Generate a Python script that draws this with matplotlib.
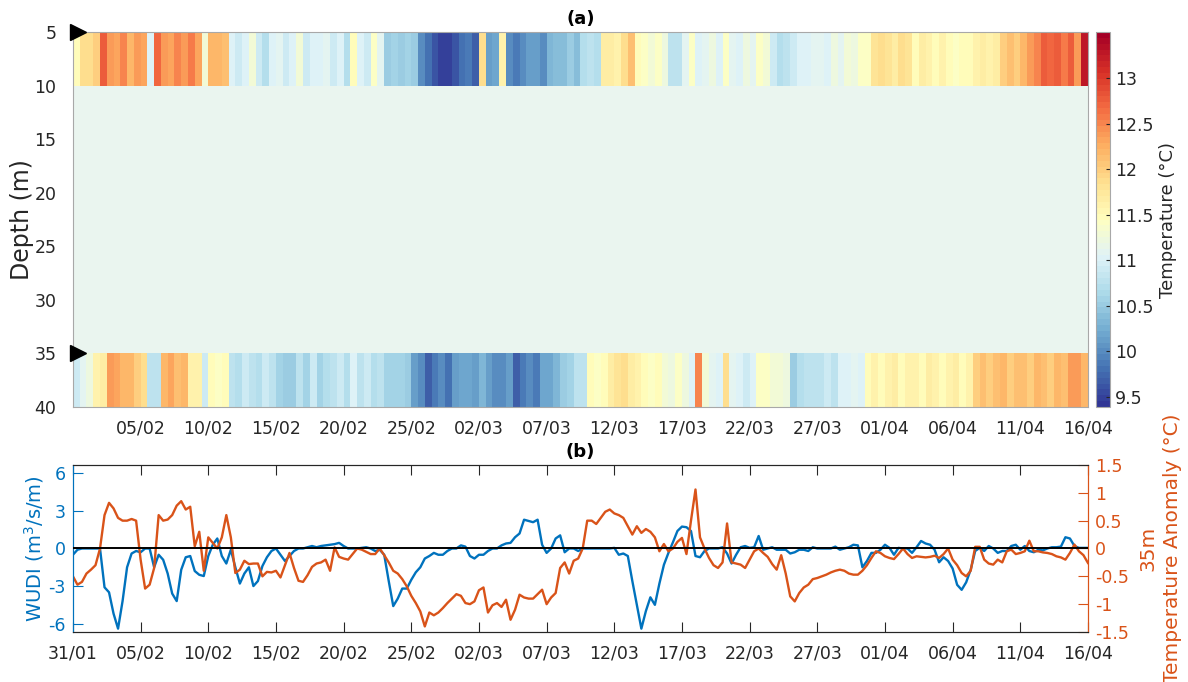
import numpy as np
import matplotlib
matplotlib.use('Agg')
import matplotlib.pyplot as plt
import matplotlib.dates as mdates
from matplotlib.colors import ListedColormap

plt.rcParams['font.family'] = 'DejaVu Sans'
plt.rcParams['axes.unicode_minus'] = False

# time span of the record
start_date = np.datetime64('2023-01-31T00:00')
end_date = np.datetime64('2023-04-16T00:00')
tick_dates = np.arange(start_date, end_date + np.timedelta64(1, 'D'), np.timedelta64(5, 'D'))

# sensor depths (m) and the depth band each one covers
sensor_depths = [5, 35]
band_edges = [5, 10, 35, 40]

# temperature (degC), two samples per day
temp_5m = [
    11.5, 11.9, 11.9, 12.0, 12.8, 12.4, 12.3, 12.5, 12.2, 12.4,
    12.3, 11.0, 12.7, 12.4, 12.3, 12.5, 12.4, 12.6, 12.3, 11.3,
    12.2, 12.2, 12.1, 11.0, 10.9, 11.0, 11.3, 10.9, 10.7, 11.0,
    11.1, 10.9, 11.0, 11.3, 10.9, 11.0, 11.0, 11.1, 10.9, 11.0,
    10.7, 11.5, 11.0, 10.9, 11.4, 11.1, 10.5, 10.6, 10.5, 10.6,
    10.5, 10.0, 9.8, 9.6, 9.5, 9.5, 9.6, 9.8, 9.9, 9.7,
    11.9, 10.1, 10.2, 11.6, 10.0, 9.9, 10.0, 10.1, 10.1, 10.0,
    10.3, 10.4, 10.4, 10.5, 10.4, 10.7, 10.8, 10.7, 11.7, 11.7,
    11.6, 11.9, 12.1, 11.5, 11.4, 11.3, 11.4, 11.2, 10.8, 10.8,
    11.1, 11.4, 11.0, 11.1, 11.2, 11.0, 11.4, 11.1, 11.0, 11.2,
    11.1, 11.4, 11.3, 10.9, 10.7, 10.8, 10.9, 11.0, 11.0, 11.1,
    11.1, 11.0, 11.2, 11.1, 11.3, 11.2, 11.4, 11.4, 11.8, 11.9,
    11.8, 11.7, 11.9, 11.8, 11.5, 11.7, 11.6, 11.5, 11.6, 11.5,
    11.4, 11.5, 11.5, 11.6, 11.7, 11.6, 11.7, 12.0, 12.1, 12.0,
    12.2, 12.4, 12.5, 12.8, 12.7, 12.8, 12.6, 12.8, 12.4, 13.3,
]
temp_35m = [
    10.9, 11.1, 11.2, 11.6, 11.7, 12.4, 12.3, 12.2, 12.2, 12.0,
    11.9, 10.8, 10.8, 12.2, 12.3, 12.1, 12.2, 11.6, 11.6, 10.9,
    11.5, 11.4, 11.5, 10.8, 10.7, 10.9, 10.8, 10.7, 10.9, 10.8,
    10.6, 10.5, 10.5, 10.8, 10.6, 10.9, 10.6, 10.7, 10.8, 10.9,
    10.7, 11.0, 10.8, 10.9, 10.7, 10.8, 10.6, 10.6, 10.6, 10.5,
    10.1, 10.0, 9.7, 9.9, 10.0, 9.8, 10.1, 10.2, 10.2, 10.1,
    10.3, 10.1, 10.0, 10.0, 10.1, 9.7, 9.9, 10.0, 9.9, 10.2,
    10.2, 10.3, 10.5, 10.6, 10.8, 10.8, 11.5, 11.4, 11.5, 11.7,
    11.8, 11.9, 11.7, 11.6, 11.5, 11.4, 11.5, 11.3, 11.2, 11.4,
    11.2, 11.0, 12.5, 11.3, 11.1, 11.0, 11.9, 11.1, 11.0, 10.9,
    11.0, 11.4, 11.4, 11.3, 11.3, 11.2, 10.5, 10.7, 10.8, 10.8,
    10.8, 10.9, 10.8, 11.0, 11.0, 11.1, 11.0, 11.5, 11.6, 11.5,
    11.6, 11.7, 11.5, 11.6, 11.6, 11.5, 11.7, 11.6, 11.5, 11.6,
    11.7, 11.5, 11.6, 12.0, 12.1, 12.0, 12.1, 12.2, 12.0, 12.1,
    12.1, 12.0, 12.2, 12.1, 12.0, 12.2, 12.1, 12.4, 12.4, 12.2,
]

# WUDI (m3/s/m), three samples per day
wudi = [
    -0.5, -0.1, 0.0, 0.0, 0.0, 0.0, 0.0, -3.1, -3.5, -5.2, -6.4, -4.2,
    -1.5, -0.4, -0.2, -0.3, 0.0, 0.0, -1.5, -0.5, -0.9, -2.0, -3.6, -4.2,
    -1.7, -0.7, -0.6, -1.8, -2.1, -2.2, -0.6, 0.3, 0.8, -0.6, -1.2, -0.1,
    -1.5, -2.8, -2.0, -1.5, -3.0, -2.6, -1.4, -0.7, -0.2, 0.0, -0.5, -1.0,
    -0.6, -0.2, 0.0, 0.0, 0.1, 0.2, 0.1, 0.2, 0.25, 0.3, 0.35, 0.45,
    0.2, 0.0, 0.0, 0.0, 0.05, 0.1, 0.0, -0.2, -0.1, -0.5, -2.6, -4.6,
    -4.0, -3.2, -3.2, -2.5, -1.9, -1.5, -0.8, -0.6, -0.35, -0.5, -0.5, -0.2,
    0.0, 0.0, 0.25, 0.15, -0.6, -0.8, -0.5, -0.5, -0.2, 0.0, 0.0, 0.25,
    0.4, 0.45, 0.9, 1.2, 2.3, 2.2, 2.1, 2.3, 0.3, -0.35, 0.0, 0.8,
    1.05, -0.3, 0.0, 0.0, -0.2, 0.0, 0.0, 0.0, 0.0, 0.0, 0.0, 0.0,
    0.05, -0.5, -0.4, -0.6, -2.6, -4.5, -6.4, -5.0, -3.9, -4.5, -2.8, -1.3,
    -0.35, 0.5, 1.4, 1.75, 1.7, 1.4, -0.6, -0.7, -0.2, 0.0, 0.0, 0.0,
    0.1, -0.4, -1.2, -0.5, 0.1, 0.2, 0.05, 0.1, 1.0, -0.1, 0.0, 0.1,
    -0.1, -0.1, -0.1, -0.4, -0.3, -0.1, -0.1, -0.2, 0.1, 0.0, 0.0, 0.0,
    0.0, 0.15, -0.1, 0.0, 0.1, 0.3, 0.25, -1.5, -1.0, -0.35, -0.35, -0.1,
    0.3, 0.05, -0.5, 0.05, 0.0, 0.0, -0.35, 0.1, 0.6, 0.4, 0.3, -0.1,
    -1.1, -0.7, -1.0, -1.6, -2.9, -3.3, -2.7, -1.7, -0.2, 0.05, -0.2, 0.2,
    0.0, -0.35, -0.2, -0.2, 0.2, 0.3, -0.1, 0.2, -0.2, -0.3, -0.1, -0.15,
    0.0, 0.1, 0.1, 0.15, 0.9, 0.8, 0.2, 0.05, 0.05, 0.05,
]

# 35 m temperature anomaly (degC), three samples per day
anomaly_35m = [
    -0.5, -0.65, -0.6, -0.45, -0.38, -0.3, 0.0, 0.6, 0.82, 0.72, 0.55, 0.5,
    0.5, 0.53, 0.5, -0.2, -0.72, -0.65, -0.35, 0.6, 0.5, 0.52, 0.6, 0.77,
    0.85, 0.7, 0.75, 0.04, 0.3, -0.4, 0.2, 0.1, 0.0, 0.2, 0.6, 0.2,
    -0.44, -0.38, -0.22, -0.28, -0.27, -0.27, -0.5, -0.42, -0.43, -0.4, -0.52, -0.3,
    -0.08, -0.35, -0.58, -0.6, -0.48, -0.33, -0.27, -0.25, -0.2, -0.4, 0.02, -0.15,
    -0.18, -0.2, -0.1, 0.0, -0.02, -0.06, -0.1, -0.1, 0.0, -0.12, -0.25, -0.4,
    -0.45, -0.55, -0.68, -0.85, -0.98, -1.13, -1.4, -1.15, -1.2, -1.15, -1.07, -0.98,
    -0.9, -0.82, -0.85, -0.98, -1.0, -0.95, -0.75, -0.7, -1.15, -1.02, -0.98, -1.05,
    -0.92, -1.28, -1.1, -0.83, -0.88, -0.9, -0.9, -0.82, -0.74, -1.0, -0.88, -0.8,
    -0.35, -0.25, -0.45, -0.22, -0.18, 0.0, 0.5, 0.5, 0.44, 0.55, 0.66, 0.7,
    0.63, 0.6, 0.55, 0.4, 0.25, 0.4, 0.28, 0.35, 0.3, 0.2, -0.05, 0.08,
    -0.05, 0.0, 0.12, 0.19, -0.1, 0.5, 1.06, 0.2, 0.0, -0.17, -0.3, -0.35,
    -0.25, 0.45, -0.25, -0.27, -0.29, -0.35, -0.2, -0.05, 0.0, -0.08, -0.15, -0.28,
    -0.38, -0.12, -0.45, -0.86, -0.95, -0.8, -0.7, -0.65, -0.55, -0.53, -0.5, -0.47,
    -0.43, -0.4, -0.38, -0.4, -0.45, -0.47, -0.47, -0.4, -0.3, -0.17, -0.05, -0.08,
    -0.14, -0.17, -0.19, -0.1, 0.0, -0.1, -0.17, -0.14, -0.15, -0.16, -0.15, -0.13,
    -0.17, -0.1, 0.0, -0.2, -0.3, -0.44, -0.5, -0.4, 0.03, 0.03, -0.2, -0.27,
    -0.29, -0.2, -0.25, -0.05, -0.02, -0.1, -0.08, -0.05, 0.14, -0.05, -0.05, -0.07,
    -0.08, -0.1, -0.14, -0.16, -0.2, -0.08, 0.07, -0.05, -0.12, -0.26,
]

blue = '#0072BD'
orange = '#D95319'

t_cells = mdates.date2num(start_date + np.arange(len(temp_5m) + 1) * np.timedelta64(12, 'h'))
t_lines = mdates.date2num(start_date + np.arange(len(wudi)) * np.timedelta64(8, 'h'))
ticks = mdates.date2num(tick_dates)
tick_labels = [str(d)[8:10] + '/' + str(d)[5:7] for d in tick_dates]
x0, x1 = mdates.date2num(start_date), mdates.date2num(end_date)

fig = plt.figure(figsize=(11.88, 6.82), dpi=100)

# ---- (a) temperature section ----
ax1 = fig.add_axes([0.0614, 0.4032, 0.8544, 0.5499])
ax1.set_facecolor('#eaf5ef')
grid = np.ma.masked_invalid(np.vstack([temp_5m, np.full(len(temp_5m), np.nan), temp_35m]))
cmap = ListedColormap(plt.get_cmap('RdYlBu_r')(np.linspace(0, 1, 64)))
mesh = ax1.pcolormesh(t_cells, band_edges, grid, cmap=cmap, vmin=9.39, vmax=13.51)
ax1.set_xlim(x0, x1)
ax1.set_ylim(40, 5)
ax1.set_yticks(range(5, 41, 5))
ax1.set_xticks(ticks[1:])
ax1.set_xticklabels(tick_labels[1:])
ax1.tick_params(length=0, labelsize=12.5, colors='#262626')
ax1.tick_params(axis='x', pad=9)
ax1.tick_params(axis='y', pad=12)
for s in ax1.spines.values():
    s.set_color('#a8a8a8')
ax1.set_ylabel('Depth (m)', fontsize=17, color='#262626', labelpad=0)
ax1.set_title('(a)', fontsize=13, fontweight='bold', pad=6)
ax1.plot([0.0045] * len(sensor_depths), sensor_depths, '>', color='k', markersize=11,
         transform=ax1.get_yaxis_transform(), clip_on=False, zorder=5)

cax = fig.add_axes([0.9226, 0.4032, 0.0118, 0.5499])
cb = fig.colorbar(mesh, cax=cax)
cb.set_ticks(np.arange(9.5, 13.01, 0.5))
cb.set_ticklabels(['9.5', '10', '10.5', '11', '11.5', '12', '12.5', '13'])
cb.ax.tick_params(direction='in', length=3, labelsize=12.5, colors='#262626')
cb.outline.set_edgecolor('#a8a8a8')
cb.set_label('Temperature (°C)', fontsize=13, color='#262626')

# ---- (b) WUDI and 35 m anomaly ----
ax2 = fig.add_axes([0.0614, 0.0733, 0.8544, 0.2449])
ax2.plot(t_lines, wudi, color=blue, lw=1.7)
ax2.set_xlim(x0, x1)
ax2.set_ylim(-6.67, 6.67)
ax2.set_yticks([-6, -3, 0, 3, 6])
ax2.set_xticks(ticks)
ax2.set_xticklabels(tick_labels)
ax2.tick_params(axis='x', direction='in', length=7, top=True, labelsize=12.5,
                colors='#262626', pad=9)
ax2.tick_params(axis='y', direction='in', length=7, labelsize=12.5, colors=blue, pad=5)
ax2.set_ylabel('WUDI (m$^3$/s/m)', color=blue, fontsize=14, labelpad=2)
ax2.set_title('(b)', fontsize=13, fontweight='bold', pad=6)

ax3 = ax2.twinx()
ax3.plot(t_lines, anomaly_35m, color=orange, lw=1.7)
ax3.axhline(0, color='k', lw=1.4, zorder=5)
ax3.set_xlim(x0, x1)
ax3.set_ylim(-1.5, 1.5)
ax3.set_yticks([-1.5, -1, -0.5, 0, 0.5, 1, 1.5])
ax3.set_yticklabels(['-1.5', '-1', '-0.5', '0', '0.5', '1', '1.5'])
ax3.tick_params(axis='y', direction='in', length=7, labelsize=12.5, colors=orange, pad=5)
ax3.set_ylabel('35m\nTemperature Anomaly (°C)', color=orange, fontsize=14.5,
               labelpad=7, linespacing=1.35)

for ax in (ax2, ax3):
    ax.spines['top'].set_color('#262626')
    ax.spines['bottom'].set_color('#262626')
    ax.spines['left'].set_color(blue)
    ax.spines['right'].set_color(orange)

fig.savefig('out.png', dpi=100)
